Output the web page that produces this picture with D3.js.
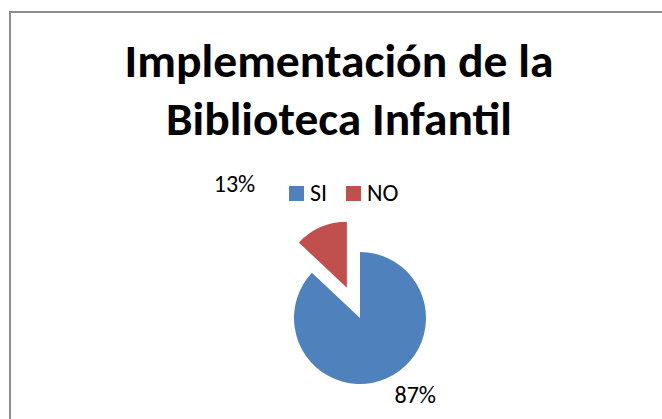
<!DOCTYPE html>
<html>
<head>
<meta charset="utf-8">
<script src="https://cdn.jsdelivr.net/npm/d3@7"></script>
<style>
  body { margin: 0; background: #fff; }
  svg { display: block; }
  text { font-family: Carlito, Calibri, Lato, "Open Sans", sans-serif; fill: #000; }
</style>
</head>
<body>
<div class="chart"></div>
<script>
// Data
var categories = ["SI", "NO"];
var values = [87, 13];
var labels = ["87%", "13%"];
var titleLines = ["Implementación de la", "Biblioteca Infantil"];
var colors = ["#4F81BD", "#C0504D"];

var svgWidth = 662;
var svgHeight = 419;

var svg = d3.select(".chart")
  .append("svg")
  .attr("width", svgWidth)
  .attr("height", svgHeight);

// chart frame, cut off at right and bottom like the source
svg.append("rect")
  .attr("x", 10)
  .attr("y", 12)
  .attr("width", 720)
  .attr("height", 480)
  .attr("fill", "#fff")
  .attr("stroke", "#8e8e8e")
  .attr("stroke-width", 2);

// Title
var titleX = 339;
var titleWidths = [429, 346];
svg.append("g").selectAll("text")
  .data(titleLines)
  .enter()
  .append("text")
  .attr("x", titleX)
  .attr("y", (d, i) => 77 + i * 58)
  .attr("text-anchor", "middle")
  .attr("font-size", 46)
  .attr("font-weight", "bold")
  .attr("textLength", (d, i) => titleWidths[i])
  .attr("lengthAdjust", "spacingAndGlyphs")
  .text(d => d);

// Legend
var legend = svg.append("g")
  .attr("transform", "translate(289, 186)");

var legendX = d3.scalePoint()
  .domain(categories)
  .range([0, 57]);

var legendItem = legend.selectAll("g")
  .data(categories)
  .enter()
  .append("g")
  .attr("transform", d => `translate(${legendX(d)}, 0)`);

legendItem.append("rect")
  .attr("width", 15)
  .attr("height", 15)
  .attr("fill", (d, i) => colors[i]);

legendItem.append("text")
  .attr("x", 21)
  .attr("y", 15)
  .attr("font-size", 24)
  .text(d => d);

// Pie
var radius = 66;
var explode = [0, 33];
var pieGroup = svg.append("g")
  .attr("transform", "translate(360, 318)");

var pie = d3.pie()
  .sort(null)
  .value(d => d);

var arcs = pie(values);

var arc = d3.arc()
  .innerRadius(0)
  .outerRadius(radius);

function polar(r, a) {
  return [r * Math.sin(a), -r * Math.cos(a)];
}

pieGroup.selectAll("path")
  .data(arcs)
  .enter()
  .append("path")
  .attr("d", arc)
  .attr("fill", (d, i) => colors[i])
  .attr("transform", (d, i) => {
    var p = polar(explode[i], (d.startAngle + d.endAngle) / 2);
    return `translate(${p[0]}, ${p[1]})`;
  });

// Data labels (placed outside, roughly where the source puts them)
var labelRadius = [94, 184];
var labelAngle = [144, 317];
pieGroup.selectAll(".pct")
  .data(arcs)
  .enter()
  .append("text")
  .attr("class", "pct")
  .attr("text-anchor", "middle")
  .attr("dominant-baseline", "central")
  .attr("font-size", 24)
  .attr("transform", (d, i) => {
    var p = polar(labelRadius[i], labelAngle[i] * Math.PI / 180);
    return `translate(${p[0]}, ${p[1]})`;
  })
  .text((d, i) => labels[i]);
</script>
</body>
</html>
